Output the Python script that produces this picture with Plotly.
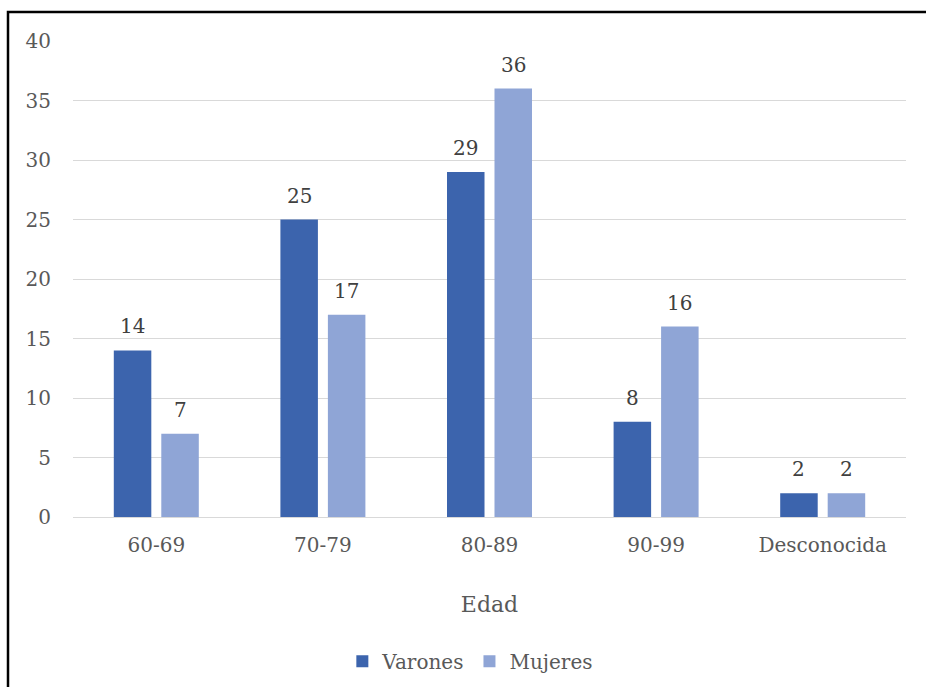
import plotly.graph_objects as go

# Data: count by age group and sex
categorias = ["60-69", "70-79", "80-89", "90-99", "Desconocida"]
varones = [14, 25, 29, 8, 2]
mujeres = [7, 17, 36, 16, 2]

W, H = 926, 687
ML, MR, MT, MB = 73, 20, 41, 170
FONT = "DejaVu Serif"
GRAY = "#595959"
LABEL = "#404040"

fig = go.Figure()
fig.add_trace(go.Bar(
    name="Varones", x=categorias, y=varones, offsetgroup="v",
    marker=dict(color="#3c64ad", line=dict(width=0)),
))
fig.add_trace(go.Bar(
    name="Mujeres", x=categorias, y=mujeres, offsetgroup="m",
    marker=dict(color="#8fa5d6", line=dict(width=0)),
))

pw = W - ML - MR
ph = H - MT - MB

# value labels above each bar (bar centres are offset by a quarter of the group slot)
slot_shift = 0.25 * (1 - 0.43)
for i, cat in enumerate(categorias):
    for val, dx in ((varones[i], -slot_shift), (mujeres[i], slot_shift)):
        fig.add_annotation(
            x=i + dx, y=val, xref="x", yref="y", text=str(val),
            showarrow=False, yanchor="bottom", yshift=10,
            font=dict(family=FONT, size=20, color=LABEL),
        )

# outer frame around the chart area
fig.add_shape(
    type="rect", xref="paper", yref="paper",
    x0=(8 - ML) / pw, x1=(W + 10 - ML) / pw,
    y0=1 - (H + 10 - MT) / ph, y1=1 + (MT - 12) / ph,
    line=dict(color="black", width=2.5), fillcolor="rgba(0,0,0,0)",
)

fig.update_layout(
    width=W, height=H,
    margin=dict(l=ML, r=MR, t=MT, b=MB, autoexpand=False),
    paper_bgcolor="white", plot_bgcolor="white",
    barmode="group", bargap=0.43, bargroupgap=0.21,
    font=dict(family=FONT, size=20, color=GRAY),
    xaxis=dict(
        title=dict(text="Edad", font=dict(family=FONT, size=22, color=GRAY), standoff=40),
        showgrid=False, showline=False, ticks="", ticklabelstandoff=14,
        tickfont=dict(family=FONT, size=20, color=GRAY), automargin=False,
    ),
    yaxis=dict(
        range=[0, 40], dtick=5, showgrid=True, gridcolor="#d9d9d9", gridwidth=1.3,
        zeroline=True, zerolinecolor="#d9d9d9", zerolinewidth=1.3,
        showline=False, ticks="", ticklabelstandoff=21,
        tickfont=dict(family=FONT, size=20, color=GRAY), automargin=False,
    ),
    legend=dict(
        orientation="h", x=0.477, xanchor="center", y=-0.262, yanchor="top",
        font=dict(family=FONT, size=20, color=GRAY),
        itemwidth=30, tracegroupgap=0,
    ),
    showlegend=True,
)

fig.write_html("out.html")
